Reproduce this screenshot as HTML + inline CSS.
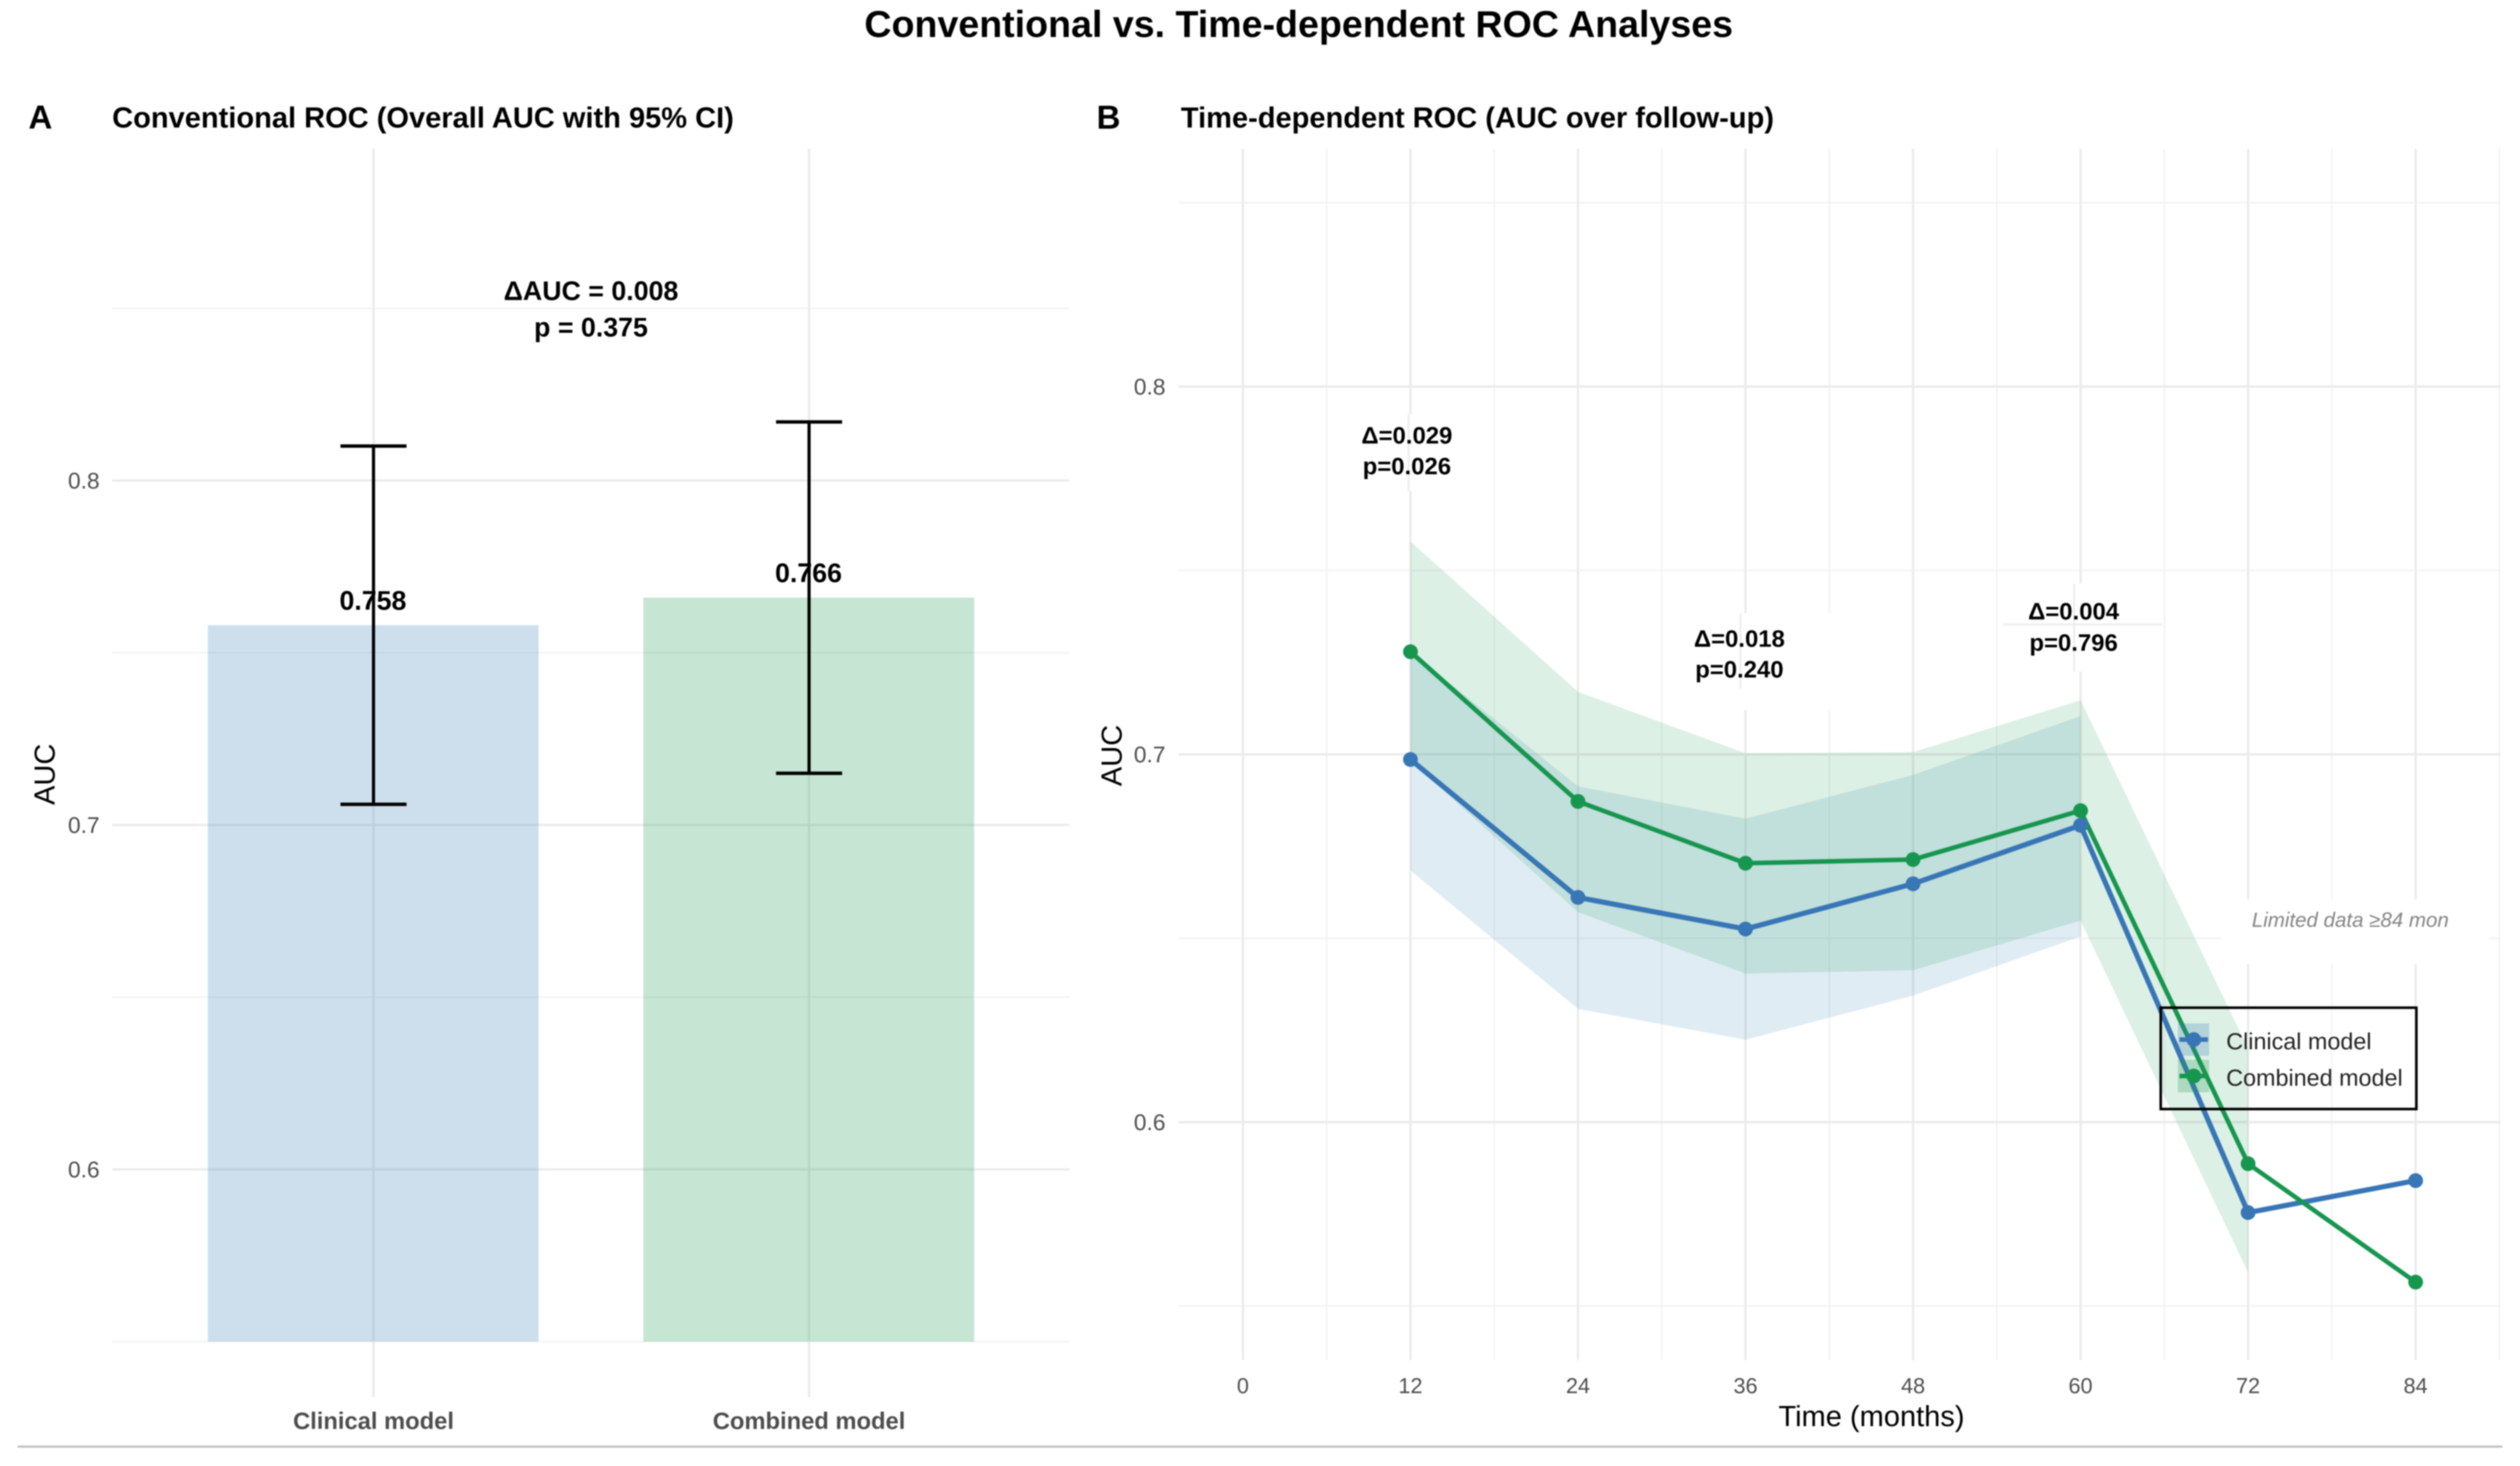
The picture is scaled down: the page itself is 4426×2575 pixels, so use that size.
<!DOCTYPE html>
<html lang="en">
<head>
<meta charset="utf-8">
<title>Conventional vs. Time-dependent ROC Analyses</title>
<style>
html,body{margin:0;padding:0;background:#fff;}
body{width:4426px;height:2575px;overflow:hidden;}
svg{display:block;filter:blur(1.1px);}
text{font-family:"Liberation Sans",sans-serif;}
.b{font-weight:700;}
</style>
</head>
<body>
<svg id="chart" xmlns="http://www.w3.org/2000/svg" width="4426" height="2575" viewBox="0 0 4426 2575">
<rect x="0" y="0" width="4426" height="2575" fill="#fff"/>
<g id="panelA"></g>
<g id="panelB"></g>
<text class="b" x="2281" y="65" font-size="66" text-anchor="middle" fill="#000">Conventional vs. Time-dependent ROC Analyses</text>
<text class="b" x="50" y="226" font-size="58" fill="#000">A</text>
<text class="b" x="197" y="224" font-size="51" fill="#000">Conventional ROC (Overall AUC with 95% CI)</text>
<text class="b" x="1926" y="226" font-size="58" fill="#000">B</text>
<text class="b" x="2074" y="224" font-size="51" fill="#000">Time-dependent ROC (AUC over follow-up)</text>
<text transform="translate(96,1360) rotate(-90)" font-size="51" text-anchor="middle" fill="#000">AUC</text>
<text transform="translate(1970,1327) rotate(-90)" font-size="51" text-anchor="middle" fill="#000">AUC</text>
<text x="3287" y="2505" font-size="51" text-anchor="middle" fill="#000">Time (months)</text>
<line x1="31" y1="2541" x2="4395" y2="2541" stroke="#c2c2c2" stroke-width="4"/>
</svg>
<script>
// Panel A data
const barCategories = ['Clinical model', 'Combined model'];
const barAuc = [0.758, 0.766];
const barCiLow = [0.706, 0.715];
const barCiHigh = [0.810, 0.817];
const barLabels = ['0.758', '0.766'];
const panelAMajorTicks = [0.6, 0.7, 0.8];
const panelAMinorTicks = [0.55, 0.65, 0.75, 0.85];

// Panel B data
const months = [12, 24, 36, 48, 60, 72, 84];
const clinicalAuc = [0.6986, 0.6611, 0.6525, 0.6648, 0.6807, 0.5754, 0.5841];
const combinedAuc = [0.7279, 0.6872, 0.6704, 0.6714, 0.6847, 0.5887, 0.5565];
const clinicalBandMonths = [12, 24, 36, 48, 60];
const clinicalUpper = [0.7279, 0.6913, 0.6825, 0.6944, 0.7104];
const clinicalLower = [0.6684, 0.6308, 0.6224, 0.6344, 0.6505];
const combinedBandMonths = [12, 24, 36, 48, 60, 72];
const combinedUpper = [0.7579, 0.717, 0.7003, 0.7006, 0.7147, 0.62];
const combinedLower = [0.6983, 0.6571, 0.6404, 0.6413, 0.6548, 0.5591];
const panelBMajorY = [0.6, 0.7, 0.8];
const panelBMinorY = [0.55, 0.65, 0.75, 0.85];
const panelBMajorX = [0, 12, 24, 36, 48, 60, 72, 84];
const panelBMinorX = [6, 18, 30, 42, 54, 66, 78, 90];

const NS = 'http://www.w3.org/2000/svg';
const panelA = document.getElementById('panelA');
const panelB = document.getElementById('panelB');

const yA = v => 844 + (0.8 - v) * 6050;
const xA = i => 656 + 765 * i;
const yB = v => 1325 + (0.7 - v) * 6460;
const xB = t => 2183 + t * 24.52;

function make(parent, tag, props, content) {
  const el = document.createElementNS(NS, tag);
  for (const k in props) el.setAttribute(k, props[k]);
  if (content !== undefined) el.textContent = content;
  parent.appendChild(el);
  return el;
}
function line(parent, x1, y1, x2, y2, stroke, w) {
  return make(parent, 'line', {x1, y1, x2, y2, stroke, 'stroke-width': w});
}
function label(parent, x, y, size, fill, anchor, str, extra) {
  return make(parent, 'text', Object.assign({x, y, 'font-size': size, fill, 'text-anchor': anchor}, extra || {}), str);
}
function whiteBox(x, y, w, h) {
  return make(panelB, 'rect', {x, y, width: w, height: h, fill: '#fff'});
}
function band(xs, up, lo) {
  const top = xs.map((t, i) => xB(t) + ',' + yB(up[i]));
  const bottom = xs.map((t, i) => xB(t) + ',' + yB(lo[i])).reverse();
  return top.concat(bottom).join(' ');
}
function polyPts(ys) {
  return months.map((t, i) => xB(t) + ',' + yB(ys[i])).join(' ');
}

/* ---------- Panel A ---------- */
panelAMinorTicks.forEach(v => {
  const el = line(panelA, 197, yA(v), 1878, yA(v), '#f2f2f2', 2.5);
  
  
});
panelAMajorTicks.forEach(v => {
  const el = line(panelA, 197, yA(v), 1878, yA(v), '#ebebeb', 4);
  
  
  const t = label(panelA, 175, yA(v) + 14, 40, '#4d4d4d', 'end', v.toFixed(1));
  
  
});
barCategories.forEach((c, i) => {
  const g = line(panelA, xA(i), 261, xA(i), 2454, '#ebebeb', 4);
  
  
});
const barFill = ['#377eb8', '#1a9850'];
barCategories.forEach((c, i) => {
  const bar = make(panelA, 'rect', {x: xA(i) - 291, y: yA(barAuc[i]), width: 581, height: yA(0.55) - yA(barAuc[i]), fill: barFill[i], 'fill-opacity': 0.25});
  
  

  const v = line(panelA, xA(i), yA(barCiHigh[i]), xA(i), yA(barCiLow[i]), '#000', 5.5);
  
  
  const capT = line(panelA, xA(i) - 58, yA(barCiHigh[i]), xA(i) + 58, yA(barCiHigh[i]), '#000', 6);
  
  
  const capB = line(panelA, xA(i) - 58, yA(barCiLow[i]), xA(i) + 58, yA(barCiLow[i]), '#000', 6);
  
  

  const val = label(panelA, xA(i) - 1, yA(barAuc[i]) - 27, 47, '#000', 'middle', barLabels[i], {'font-weight': 700});
  
  

  const cat = label(panelA, xA(i), 2510, 41.7, '#4d4d4d', 'middle', c, {'font-weight': 700});
  
  
});
const dAuc = label(panelA, 1038, 527, 47, '#000', 'middle', 'ΔAUC = 0.008', {'font-weight': 700});


const pAuc = label(panelA, 1038, 591, 47, '#000', 'middle', 'p = 0.375', {'font-weight': 700});



/* ---------- Panel B ---------- */
panelBMinorY.forEach(v => {
  const el = line(panelB, 2070, yB(v), 4392, yB(v), '#f2f2f2', 2.5);
  
  
});
panelBMinorX.forEach(t => {
  const el = line(panelB, xB(t), 261, xB(t), 2389, '#f2f2f2', 2.5);
  
  
});
panelBMajorY.forEach(v => {
  const el = line(panelB, 2070, yB(v), 4392, yB(v), '#ebebeb', 4);
  
  
  const t = label(panelB, 2047, yB(v) + 14, 40, '#4d4d4d', 'end', v.toFixed(1));
  
  
});
panelBMajorX.forEach(m => {
  const el = line(panelB, xB(m), 261, xB(m), 2389, '#ebebeb', 4);
  
  
  const t = label(panelB, xB(m), 2447, 38, '#4d4d4d', 'middle', String(m));
  
  
});

// white label backgrounds that interrupt the grid, with their inner grid fragments
const box12 = whiteBox(2345, 728, 260, 135);


const inner12 = line(panelB, 2474, 728, 2474, 863, '#eeeeee', 4);



const box36 = whiteBox(2925, 1077, 295, 170);


const inner36 = line(panelB, 3057, 1077, 3057, 1210, '#eeeeee', 4);



const box60 = whiteBox(3516, 1025, 284, 155);


const inner60v = line(panelB, 3643, 1025, 3643, 1180, '#eeeeee', 4);


const inner60h = line(panelB, 3518, 1097, 3797, 1097, '#eeeeee', 4);



const boxLimited = whiteBox(3902, 1580, 470, 113);



const clinBand = make(panelB, 'polygon', {points: band(clinicalBandMonths, clinicalUpper, clinicalLower), fill: '#3a88b8', 'fill-opacity': 0.16});


const combBand = make(panelB, 'polygon', {points: band(combinedBandMonths, combinedUpper, combinedLower), fill: '#1a9850', 'fill-opacity': 0.15});



const clinLine = make(panelB, 'polyline', {points: polyPts(clinicalAuc), fill: 'none', stroke: '#3876b6', 'stroke-width': 9, 'stroke-linejoin': 'round'});


const combLine = make(panelB, 'polyline', {points: polyPts(combinedAuc), fill: 'none', stroke: '#17964f', 'stroke-width': 8, 'stroke-linejoin': 'round'});



months.forEach((t, i) => {
  const p = make(panelB, 'circle', {cx: xB(t), cy: yB(clinicalAuc[i]), r: 13, fill: '#3876b6'});
  
  
});
months.forEach((t, i) => {
  const p = make(panelB, 'circle', {cx: xB(t), cy: yB(combinedAuc[i]), r: 13, fill: '#17964f'});
  
  
});

const a1 = label(panelB, 2471, 779, 42, '#000', 'middle', 'Δ=0.029', {'font-weight': 700});


const a1p = label(panelB, 2471, 833, 42, '#000', 'middle', 'p=0.026', {'font-weight': 700});


const a2 = label(panelB, 3055, 1136, 42, '#000', 'middle', 'Δ=0.018', {'font-weight': 700});


const a2p = label(panelB, 3055, 1190, 42, '#000', 'middle', 'p=0.240', {'font-weight': 700});


const a3 = label(panelB, 3642, 1088, 42, '#000', 'middle', 'Δ=0.004', {'font-weight': 700});


const a3p = label(panelB, 3642, 1143, 42, '#000', 'middle', 'p=0.796', {'font-weight': 700});


const lim = label(panelB, 3955, 1628, 36, '#858585', 'start', 'Limited data ≥84 mon', {'font-style': 'italic'});



/* ---------- Legend ---------- */
const legend = make(panelB, 'g', {});


const legendBox = make(legend, 'rect', {x: 3795, y: 1770, width: 449, height: 178, fill: 'none', stroke: '#000', 'stroke-width': 4.5});


const legendNames = ['Clinical model', 'Combined model'];
const legendColors = ['#3876b6', '#17964f'];
const legendRows = [1826, 1890];
legendNames.forEach((n, i) => {
  const k = make(legend, 'rect', {x: 3825, y: legendRows[i] - 28.5, width: 55, height: 57, fill: legendColors[i], 'fill-opacity': 0.25});
  
  
  const l = line(legend, 3828, legendRows[i], 3878, legendRows[i], legendColors[i], 8);
  
  
  const c = make(legend, 'circle', {cx: 3853, cy: legendRows[i], r: 13, fill: legendColors[i]});
  
  
  const t = label(legend, 3910, legendRows[i] + 17, 41, '#222', 'start', n);
  
  
});
</script>
</body>
</html>
